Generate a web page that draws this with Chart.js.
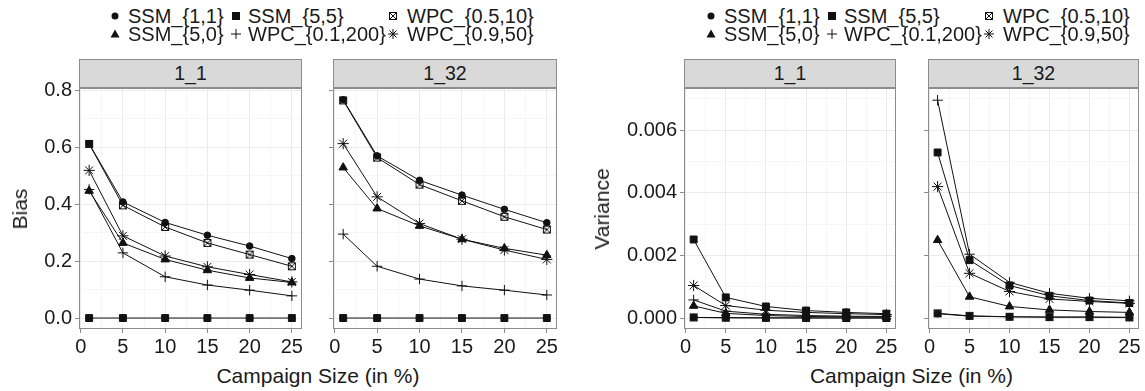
<!DOCTYPE html>
<html>
<head>
<meta charset="utf-8">
<script src="https://cdn.jsdelivr.net/npm/chart.js@4.4.1/dist/chart.umd.min.js"></script>
<style>
  body { margin: 0; background: #fff; width: 1145px; height: 391px; position: relative; overflow: hidden;
         font-family: "Liberation Sans", Arial, Helvetica, sans-serif; color: #1a1a1a; }
  canvas { position: absolute; }
  .strip { position: absolute; top: 59px; height: 29px; box-sizing: border-box; background: #d9d9d9;
           border: 1px solid #8c8c8c; text-align: center; line-height: 27px; font-size: 19.5px; }
  .txt { position: absolute; white-space: nowrap; font-size: 20px; line-height: 24px; }
  .title { position: absolute; white-space: nowrap; font-size: 21px; line-height: 24px; transform: translate(-50%, -50%); }
  .ytitle { transform: translate(-50%, -50%) rotate(-90deg); }
</style>
</head>
<body>
<script>
const campaignSize = [1, 5, 10, 15, 20, 25];
const seriesNames = ['SSM_{1,1}', 'SSM_{5,5}', 'WPC_{0.5,10}', 'SSM_{5,0}', 'WPC_{0.1,200}', 'WPC_{0.9,50}'];
const seriesShapes = ['circle', 'square', 'boxX', 'triangle', 'plus', 'asterisk'];
const panelLabels = ['1_1', '1_32'];
const xTickLabels = [0, 5, 10, 15, 20, 25];
const biasTickLabels = [0, 0.2, 0.4, 0.6, 0.8];
const varianceTickLabels = [0, 0.002, 0.004, 0.006];

// Bias, panel 1_1
const bias_1_1_ssm11 = [0.613, 0.408, 0.336, 0.291, 0.253, 0.209];
const bias_1_1_ssm55 = [0, 0, 0, 0, 0, 0];
const bias_1_1_wpc05 = [0.612, 0.396, 0.320, 0.264, 0.223, 0.182];
const bias_1_1_ssm50 = [0.447, 0.264, 0.206, 0.168, 0.141, 0.125];
const bias_1_1_wpc01 = [0.452, 0.229, 0.145, 0.116, 0.098, 0.078];
const bias_1_1_wpc09 = [0.519, 0.289, 0.218, 0.180, 0.153, 0.127];

// Bias, panel 1_32
const bias_1_32_ssm11 = [0.767, 0.570, 0.484, 0.432, 0.382, 0.335];
const bias_1_32_ssm55 = [0, 0, 0, 0, 0, 0];
const bias_1_32_wpc05 = [0.765, 0.564, 0.469, 0.412, 0.356, 0.311];
const bias_1_32_ssm50 = [0.529, 0.385, 0.324, 0.277, 0.245, 0.221];
const bias_1_32_wpc01 = [0.295, 0.182, 0.137, 0.113, 0.098, 0.081];
const bias_1_32_wpc09 = [0.613, 0.426, 0.332, 0.277, 0.239, 0.206];

// Variance, panel 1_1
const var_1_1_ssm11 = [0.00002, 0.00001, 0.000005, 0.000004, 0.000003, 0.000002];
const var_1_1_ssm55 = [0.00251, 0.00066, 0.00037, 0.00024, 0.00018, 0.00014];
const var_1_1_wpc05 = [0.00002, 0.00001, 0.000006, 0.000004, 0.000003, 0.000002];
const var_1_1_ssm50 = [0.00039, 0.00015, 0.00008, 0.00005, 0.00004, 0.00003];
const var_1_1_wpc01 = [0.00058, 0.00022, 0.00012, 0.00008, 0.00006, 0.00005];
const var_1_1_wpc09 = [0.00104, 0.00040, 0.00025, 0.00018, 0.00014, 0.00011];

// Variance, panel 1_32
const var_1_32_ssm11 = [0.00014, 0.00006, 0.00004, 0.00003, 0.00003, 0.00002];
const var_1_32_ssm55 = [0.00529, 0.00185, 0.00104, 0.00071, 0.00056, 0.00048];
const var_1_32_wpc05 = [0.00015, 0.00007, 0.00004, 0.00003, 0.00003, 0.00002];
const var_1_32_ssm50 = [0.00249, 0.00068, 0.00037, 0.00026, 0.00021, 0.00018];
const var_1_32_wpc01 = [0.00696, 0.00204, 0.00114, 0.00079, 0.00063, 0.00055];
const var_1_32_wpc09 = [0.00420, 0.00143, 0.00085, 0.00061, 0.00053, 0.00047];

const FONT = '"Liberation Sans", Arial, Helvetica, sans-serif';
const INK = '#111111';
const FRAME = '#8c8c8c';

// square with an X, like ggplot shape 7
const boxX = (function() {
    const c = document.createElement('canvas');
    c.width = 10; c.height = 10;
    const g = c.getContext('2d');
    g.strokeStyle = INK; g.lineWidth = 1;
    g.strokeRect(1.5, 1.5, 7, 7);
    g.beginPath();
    g.moveTo(1.5, 1.5); g.lineTo(8.5, 8.5);
    g.moveTo(8.5, 1.5); g.lineTo(1.5, 8.5);
    g.stroke();
    return c;
})();

function pointFor(shape) {
    if (shape === 'circle') return { pointStyle: 'circle', pointRadius: 3.3 };
    if (shape === 'square') return { pointStyle: 'rect', pointRadius: 4.9 };
    if (shape === 'triangle') return { pointStyle: 'triangle', pointRadius: 4.9 };
    if (shape === 'plus') return { pointStyle: 'cross', pointRadius: 5.2 };
    if (shape === 'asterisk') return { pointStyle: 'star', pointRadius: 5.6 };
    return { pointStyle: boxX, pointRadius: 5 };
}

const panelBorder = {
    id: 'panelBorder',
    beforeDatasetsDraw(chart) {
        const a = chart.chartArea, ctx = chart.ctx;
        ctx.save();
        ctx.strokeStyle = FRAME;
        ctx.lineWidth = 1;
        ctx.strokeRect(Math.round(a.left) + 0.5, Math.round(a.top) + 0.5, Math.round(a.width) - 1, Math.round(a.height) - 1);
        ctx.restore();
    }
};

function isIn(list, v) {
    return list.some(t => Math.abs(t - v) < 1e-9);
}

function makePanel(cfg) {
    const padL = cfg.showY ? 10 : 20, padR = 20, padT = 20, axisH = 30;
    const axisW = cfg.showY ? cfg.axisW : 5;
    const canvas = document.createElement('canvas');
    const w = padL + axisW + cfg.plotW + padR;
    const h = padT + 241 + axisH;
    canvas.width = w; canvas.height = h;
    canvas.style.width = w + 'px'; canvas.style.height = h + 'px';
    canvas.style.left = (cfg.plotLeft - padL - axisW) + 'px';
    canvas.style.top = (88 - padT) + 'px';
    document.body.appendChild(canvas);

    const datasets = cfg.series.map((vals, i) => Object.assign({
        data: vals.map((v, j) => ({ x: campaignSize[j], y: v })),
        borderColor: INK,
        borderWidth: 1,
        backgroundColor: INK,
        pointBackgroundColor: INK,
        pointBorderColor: INK,
        pointBorderWidth: 1,
        tension: 0,
        clip: false
    }, pointFor(seriesShapes[i])));

    new Chart(canvas, {
        type: 'line',
        data: { datasets: datasets },
        options: {
            responsive: false,
            animation: false,
            layout: { padding: { left: padL, right: padR, top: padT, bottom: 0 } },
            plugins: { legend: { display: false }, tooltip: { enabled: false } },
            scales: {
                x: {
                    type: 'linear', min: -0.2, max: 26.2,
                    afterFit: s => { s.height = axisH; },
                    border: { display: false },
                    grid: {
                        color: c => (c.tick && isIn(xTickLabels, c.tick.value)) ? '#ebebeb' : '#f6f6f6',
                        tickColor: c => (c.tick && isIn(xTickLabels, c.tick.value)) ? FRAME : 'rgba(0,0,0,0)',
                        tickLength: 4
                    },
                    ticks: {
                        stepSize: 2.5, includeBounds: false, autoSkip: false, maxRotation: 0, padding: 2,
                        color: '#1a1a1a', font: { family: FONT, size: 20 },
                        callback: v => isIn(xTickLabels, v) ? String(v) : ''
                    }
                },
                y: {
                    type: 'linear', min: cfg.yMin, max: cfg.yMax,
                    afterFit: s => { s.width = axisW; },
                    border: { display: false },
                    grid: {
                        color: c => (c.tick && isIn(cfg.yLabels, c.tick.value)) ? '#ebebeb' : '#f6f6f6',
                        tickColor: c => (c.tick && isIn(cfg.yLabels, c.tick.value)) ? FRAME : 'rgba(0,0,0,0)',
                        tickLength: 4
                    },
                    ticks: {
                        stepSize: cfg.yStep, includeBounds: false, autoSkip: false, padding: 3,
                        color: '#1a1a1a', font: { family: FONT, size: 20 },
                        callback: v => (cfg.showY && isIn(cfg.yLabels, v)) ? v.toFixed(cfg.digits) : ''
                    }
                }
            }
        },
        plugins: [panelBorder]
    });

    const strip = document.createElement('div');
    strip.className = 'strip';
    strip.style.left = cfg.plotLeft + 'px';
    strip.style.width = cfg.plotW + 'px';
    strip.textContent = cfg.label;
    document.body.appendChild(strip);
}

function addText(cls, text, x, y) {
    const d = document.createElement('div');
    d.className = cls;
    d.textContent = text;
    d.style.left = x + 'px';
    d.style.top = y + 'px';
    document.body.appendChild(d);
    return d;
}

function symbolCanvas(shape, cx, cy) {
    const c = document.createElement('canvas');
    c.width = 16; c.height = 16;
    c.style.left = (cx - 8) + 'px';
    c.style.top = (cy - 8) + 'px';
    const g = c.getContext('2d');
    g.fillStyle = INK; g.strokeStyle = INK; g.lineWidth = 1;
    g.beginPath();
    if (shape === 'circle') { g.arc(8, 8, 3.5, 0, Math.PI * 2); g.fill(); }
    else if (shape === 'square') { g.fillRect(4, 4, 8, 8); }
    else if (shape === 'triangle') { g.moveTo(8, 3.5); g.lineTo(12.5, 11.5); g.lineTo(3.5, 11.5); g.closePath(); g.fill(); }
    else if (shape === 'plus') { g.moveTo(3, 8); g.lineTo(13, 8); g.moveTo(8, 3); g.lineTo(8, 13); g.stroke(); }
    else if (shape === 'asterisk') {
        g.moveTo(3, 8); g.lineTo(13, 8); g.moveTo(8, 3); g.lineTo(8, 13);
        g.moveTo(4.5, 4.5); g.lineTo(11.5, 11.5); g.moveTo(11.5, 4.5); g.lineTo(4.5, 11.5); g.stroke();
    } else { g.drawImage(boxX, 3, 3); }
    document.body.appendChild(c);
}

function addLegend(offset) {
    const symX = [115, 236, 393];
    const txtX = [128, 248, 407];
    const rowY = [16, 34];
    seriesNames.forEach((name, i) => {
        const col = i % 3, row = Math.floor(i / 3);
        symbolCanvas(seriesShapes[i], symX[col] + offset, rowY[row]);
        addText('txt', name, txtX[col] + offset, rowY[row] - 12);
    });
}

const biasRange = { yMin: -0.0385, yMax: 0.8085, yStep: 0.1, yLabels: biasTickLabels, digits: 1 };
const varRange = { yMin: -0.00035, yMax: 0.00735, yStep: 0.001, yLabels: varianceTickLabels, digits: 3 };

makePanel(Object.assign({ label: panelLabels[0], plotLeft: 79, plotW: 223, showY: true, axisW: 60,
    series: [bias_1_1_ssm11, bias_1_1_ssm55, bias_1_1_wpc05, bias_1_1_ssm50, bias_1_1_wpc01, bias_1_1_wpc09] }, biasRange));
makePanel(Object.assign({ label: panelLabels[1], plotLeft: 333, plotW: 224, showY: false,
    series: [bias_1_32_ssm11, bias_1_32_ssm55, bias_1_32_wpc05, bias_1_32_ssm50, bias_1_32_wpc01, bias_1_32_wpc09] }, biasRange));
makePanel(Object.assign({ label: panelLabels[0], plotLeft: 684, plotW: 212, showY: true, axisW: 62,
    series: [var_1_1_ssm11, var_1_1_ssm55, var_1_1_wpc05, var_1_1_ssm50, var_1_1_wpc01, var_1_1_wpc09] }, varRange));
makePanel(Object.assign({ label: panelLabels[1], plotLeft: 928, plotW: 211, showY: false,
    series: [var_1_32_ssm11, var_1_32_ssm55, var_1_32_wpc05, var_1_32_ssm50, var_1_32_wpc01, var_1_32_wpc09] }, varRange));

addLegend(0);
addLegend(596);

addText('title ytitle', 'Bias', 19.5, 208.5);
addText('title ytitle', 'Variance', 602, 208.5);
addText('title', 'Campaign Size (in %)', 318, 376);
addText('title', 'Campaign Size (in %)', 911.5, 376);
</script>
</body>
</html>
